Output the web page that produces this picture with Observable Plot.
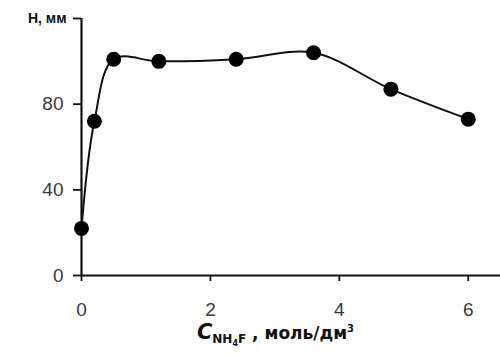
<!DOCTYPE html>
<html>
<head>
<meta charset="utf-8">
<script src="https://cdn.jsdelivr.net/npm/d3@7"></script>
<script src="https://cdn.jsdelivr.net/npm/@observablehq/plot@0.6"></script>
<style>
  html, body { margin: 0; padding: 0; background: #fff; }
</style>
</head>
<body>
<div id="chart"></div>
<script>
const concentration = [0, 0.2, 0.5, 1.2, 2.4, 3.6, 4.8, 6];
const heightMm = [22, 72, 101, 100, 101, 104, 87, 73];
const xTicks = [0, 2, 4, 6];
const yTicks = [0, 40, 80];
const yTopTick = [120];
const yTitle = "H, мм";

const data = concentration.map((c, i) => ({c, h: heightMm[i]}));

const plot = Plot.plot({
  width: 500,
  height: 354,
  marginLeft: 81,
  marginRight: 0,
  marginTop: 18,
  marginBottom: 79,
  style: {background: "#fff", fontFamily: "Liberation Sans, Arial, sans-serif"},
  x: {domain: [0, 6.5]},
  y: {domain: [0, 120]},
  marks: [
    Plot.axisX(xTicks, {tickSize: 6, tickPadding: 21, fontSize: 19, fill: "#3a3a3a", stroke: "#111", strokeWidth: 1.8, label: null}),
    Plot.axisY(yTicks, {tickSize: 8, tickPadding: 10, fontSize: 19, fill: "#3a3a3a", stroke: "#111", strokeWidth: 1.8, label: null}),
    Plot.axisY(yTopTick, {tickSize: 8, tickPadding: 7, fontSize: 14, fontWeight: "bold", fill: "#111", stroke: "#111", strokeWidth: 1.8, tickFormat: () => yTitle, label: null}),
    Plot.ruleX([0], {stroke: "#111", strokeWidth: 2.2}),
    Plot.ruleY([0], {stroke: "#111", strokeWidth: 2.2}),
    Plot.line(data, {x: "c", y: "h", curve: "catmull-rom", stroke: "#111", strokeWidth: 2}),
    Plot.dot(data, {x: "c", y: "h", r: 7.5, fill: "#000", stroke: "none"})
  ]
});

// x-axis title with subscript
const svg = d3.select(plot);
const xs = plot.scale("x");
const cx = (xs.range[0] + xs.range[1]) / 2 - 15;
const t = svg.append("text")
  .attr("x", cx)
  .attr("y", 339)
  .attr("text-anchor", "middle")
  .attr("font-family", "DejaVu Sans, sans-serif")
  .attr("font-weight", "bold")
  .attr("fill", "#111");
t.append("tspan").attr("font-size", 21).attr("font-style", "italic").text("C");
t.append("tspan").attr("font-size", 12).attr("dy", 4).text("NH");
t.append("tspan").attr("font-size", 8).attr("dy", 3).text("4");
t.append("tspan").attr("font-size", 12).attr("dy", -3).text("F");
t.append("tspan").attr("font-size", 17).attr("dy", -4).text(" , моль/дм");
t.append("tspan").attr("font-size", 10).attr("dy", -7).text("3");

document.getElementById("chart").appendChild(plot);
</script>
</body>
</html>
